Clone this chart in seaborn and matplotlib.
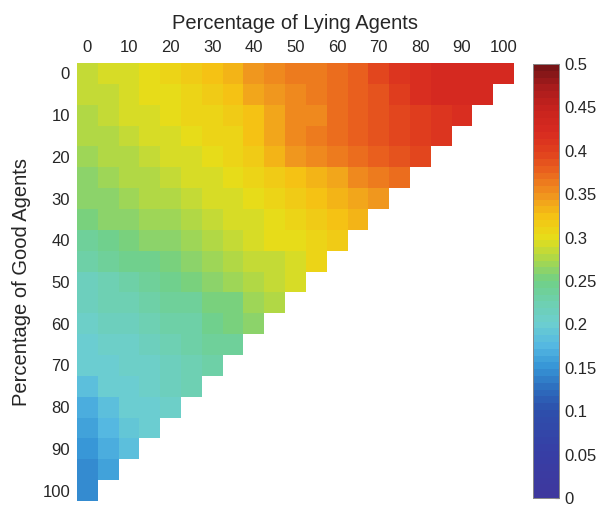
import numpy as np
import pandas as pd
import matplotlib
matplotlib.use("Agg")
import matplotlib.pyplot as plt
from matplotlib.colors import LinearSegmentedColormap
import seaborn as sns

# Percentages on each axis
lying_pct = list(range(0, 101, 5))
good_pct = list(range(0, 101, 5))
tick_labels = [str(v) for v in range(0, 101, 10)]
cbar_ticks = [0, 0.05, 0.1, 0.15, 0.2, 0.25, 0.3, 0.35, 0.4, 0.45, 0.5]
cbar_labels = ["0", "0.05", "0.1", "0.15", "0.2", "0.25", "0.3", "0.35", "0.4", "0.45", "0.5"]

# One row per share of good agents; entries follow the share of lying agents
g000 = [0.285, 0.290, 0.295, 0.300, 0.305, 0.318, 0.325, 0.335, 0.345, 0.355, 0.362,
        0.366, 0.372, 0.382, 0.392, 0.408, 0.415, 0.422, 0.425, 0.427, 0.428]
g005 = [0.283, 0.288, 0.293, 0.298, 0.303, 0.310, 0.318, 0.325, 0.338, 0.347, 0.355,
        0.360, 0.370, 0.380, 0.390, 0.405, 0.415, 0.422, 0.425, 0.425]
g010 = [0.280, 0.285, 0.290, 0.295, 0.300, 0.305, 0.312, 0.320, 0.328, 0.338, 0.352,
        0.358, 0.368, 0.378, 0.385, 0.395, 0.403, 0.413, 0.420]
g015 = [0.275, 0.280, 0.285, 0.290, 0.295, 0.300, 0.305, 0.312, 0.322, 0.340, 0.352,
        0.360, 0.368, 0.378, 0.385, 0.392, 0.400, 0.410]
g020 = [0.270, 0.275, 0.280, 0.285, 0.290, 0.295, 0.300, 0.305, 0.315, 0.330, 0.345,
        0.352, 0.365, 0.370, 0.375, 0.385, 0.392]
g025 = [0.265, 0.270, 0.275, 0.280, 0.285, 0.290, 0.295, 0.300, 0.305, 0.315, 0.325,
        0.335, 0.340, 0.352, 0.360, 0.370]
g030 = [0.260, 0.265, 0.270, 0.275, 0.280, 0.285, 0.290, 0.295, 0.300, 0.310, 0.318,
        0.325, 0.335, 0.340, 0.347]
g035 = [0.253, 0.258, 0.263, 0.268, 0.273, 0.278, 0.285, 0.290, 0.295, 0.302, 0.310,
        0.315, 0.325, 0.335]
g040 = [0.240, 0.248, 0.255, 0.260, 0.265, 0.270, 0.280, 0.288, 0.292, 0.297, 0.303,
        0.310, 0.318]
g045 = [0.230, 0.236, 0.243, 0.248, 0.253, 0.260, 0.270, 0.276, 0.282, 0.288, 0.295,
        0.305]
g050 = [0.218, 0.226, 0.232, 0.238, 0.244, 0.250, 0.258, 0.266, 0.276, 0.284, 0.293]
g055 = [0.212, 0.220, 0.225, 0.230, 0.236, 0.242, 0.250, 0.256, 0.268, 0.277]
g060 = [0.205, 0.212, 0.217, 0.223, 0.228, 0.234, 0.243, 0.252, 0.262]
g065 = [0.200, 0.206, 0.210, 0.215, 0.220, 0.227, 0.235, 0.242]
g070 = [0.197, 0.202, 0.206, 0.210, 0.216, 0.224, 0.233]
g075 = [0.180, 0.198, 0.203, 0.205, 0.212, 0.223]
g080 = [0.168, 0.185, 0.198, 0.201, 0.205]
g085 = [0.160, 0.175, 0.190, 0.200]
g090 = [0.152, 0.170, 0.180]
g095 = [0.148, 0.158]
g100 = [0.142]

rows = [g000, g005, g010, g015, g020, g025, g030, g035, g040, g045, g050,
        g055, g060, g065, g070, g075, g080, g085, g090, g095, g100]

grid = np.full((len(good_pct), len(lying_pct)), np.nan)
for i, r in enumerate(rows):
    grid[i, :len(r)] = r
df = pd.DataFrame(grid, index=good_pct, columns=lying_pct)

# Jet-like palette, 64 levels
anchors = [
    (0.000, (62, 56, 158)), (0.050, (55, 62, 165)), (0.100, (45, 80, 172)),
    (0.125, (45, 110, 190)), (0.150, (55, 150, 215)), (0.175, (85, 185, 225)),
    (0.200, (108, 206, 208)), (0.225, (110, 208, 175)), (0.250, (112, 208, 135)),
    (0.275, (170, 215, 75)), (0.300, (230, 222, 25)), (0.325, (245, 195, 20)),
    (0.350, (240, 150, 30)), (0.375, (235, 105, 30)), (0.400, (225, 65, 30)),
    (0.425, (215, 42, 32)), (0.450, (200, 35, 30)), (0.475, (170, 28, 28)),
    (0.500, (120, 20, 22)),
]
cmap = LinearSegmentedColormap.from_list(
    "jetlike", [(v / 0.5, tuple(c / 255 for c in rgb)) for v, rgb in anchors], N=64)

sns.set_theme(style="white")
plt.rcParams["font.family"] = ["Liberation Sans", "DejaVu Sans"]
text_color = "#262626"

fig = plt.figure(figsize=(6.05, 5.09), dpi=100)
ax = fig.add_axes([77 / 605, 1 - 501 / 509, 437 / 605, 438 / 509])
cax = fig.add_axes([533 / 605, 1 - 498 / 509, 26 / 605, 434 / 509])

sns.heatmap(df, ax=ax, cmap=cmap, vmin=0, vmax=0.5, cbar_ax=cax,
            xticklabels=False, yticklabels=False, square=False)

pos = np.arange(0, 21, 2) + 0.5
ax.xaxis.tick_top()
ax.xaxis.set_label_position("top")
ax.set_xticks(pos)
ax.set_xticklabels(tick_labels, fontsize=12, color=text_color)
ax.set_yticks(pos)
ax.set_yticklabels(tick_labels, fontsize=12, color=text_color, rotation=0)
ax.tick_params(axis="both", direction="in", length=3, width=0.8, color="#333333", pad=4)
ax.tick_params(axis="x", top=True, bottom=False, pad=6)
ax.tick_params(axis="y", left=True, pad=5)
ax.set_xlabel("Percentage of Lying Agents", fontsize=14.5, color=text_color, labelpad=8)
ax.set_ylabel("Percentage of Good Agents", fontsize=14.5, color=text_color, labelpad=8)
for s in ax.spines.values():
    s.set_visible(False)

cax.set_yticks(cbar_ticks)
cax.set_yticklabels(cbar_labels, fontsize=12, color=text_color)
cax.tick_params(axis="y", direction="in", length=3, width=0.8, color="#333333", pad=4, right=True)
for s in cax.spines.values():
    s.set_visible(True)
    s.set_color("#888888")
    s.set_linewidth(0.6)

fig.savefig("out.png", dpi=100)
